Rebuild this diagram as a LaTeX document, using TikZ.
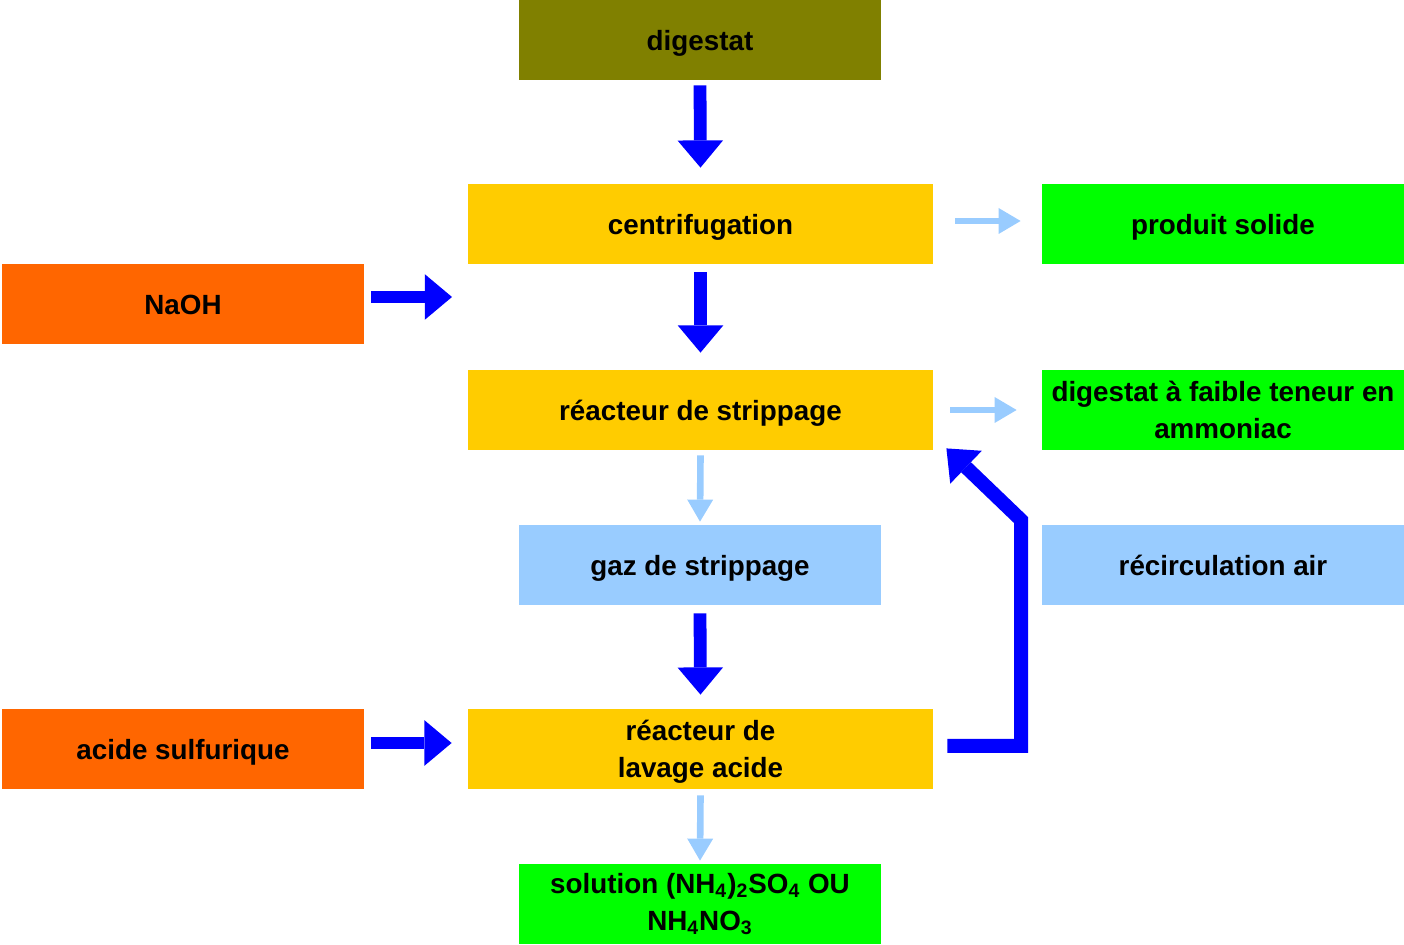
\documentclass[tikz,border=0pt]{standalone}
\usepackage{fontspec}
\setmainfont{Liberation Sans}
\usepackage{xcolor}
\usepackage{tikz}
\usetikzlibrary{arrows.meta,positioning}
\definecolor{psOlive}{HTML}{808000}
\definecolor{psYellow}{HTML}{FFCC00}
\definecolor{psGreen}{HTML}{00FF00}
\definecolor{psOrange}{HTML}{FF6600}
\definecolor{psSky}{HTML}{99CCFF}
\definecolor{psBlue}{HTML}{0000FF}
\tikzset{
  ps diagram/.style={font=\bfseries\fontsize{13.9}{18.5}\selectfont,
    x=0.5pt, y=-0.5pt},
  ps box/.style={inner sep=0pt, align=center, text=black,
    minimum height=40pt},
  ps line/.style={text height=14pt, text depth=3pt},
  ps narrow/.style={ps box, minimum width=181pt},
  ps wide/.style={ps box, minimum width=232.5pt},
  ps main/.style={draw=psBlue, line width=6.4pt, line join=miter,
    -{Triangle[length=13.6pt,width=22.8pt,line width=0pt]}},
  ps side/.style={draw=psSky, line width=3.3pt,
    -{Triangle[length=11pt,width=13pt,line width=0pt]}}
}
\begin{document}
\begin{tikzpicture}[ps diagram]
\useasboundingbox (0,0) rectangle (1404,945);
\node[ps narrow,ps line,fill=psOlive] (digestat) at (700,40) {digestat};
\node[ps wide,ps line,fill=psYellow] (centri) at (700.5,224) {centrifugation};
\node[ps narrow,ps line,fill=psGreen] (solide) at (1223,224) {produit solide};
\node[ps narrow,ps line,fill=psOrange] (naoh) at (183,304) {NaOH};
\node[ps wide,ps line,fill=psYellow] (strip) at (700.5,410) {réacteur de strippage};
\node[ps narrow,text depth=-2pt,fill=psGreen] (faible) at (1223,410)
  {digestat à faible teneur en\\ammoniac};
\node[ps narrow,ps line,fill=psSky] (gaz) at (700,565) {gaz de strippage};
\node[ps narrow,ps line,fill=psSky] (recirc) at (1223,565) {récirculation air};
\node[ps narrow,ps line,fill=psOrange] (acide) at (183,749) {acide sulfurique};
\node[ps wide,text depth=-3.5pt,fill=psYellow] (lavage) at (700.5,749) {réacteur de\\lavage acide};
\node[ps narrow,fill=psGreen] (solution) at (700,904)
  {solution (NH\textsubscript{4})\textsubscript{2}SO\textsubscript{4} OU\\NH\textsubscript{4}NO\textsubscript{3}};
\coordinate (naohIn) at (452,297);
\coordinate (loopR) at (1021,746);
\coordinate (loopT) at (1021,520);
\draw[ps main] ([yshift=-2.5pt]digestat.south) -- ([yshift=8pt]centri.north);
\draw[ps main] ([yshift=-4pt]centri.south) -- ([yshift=8.5pt]strip.north);
\draw[ps main] ([yshift=-4pt]gaz.south) -- ([yshift=7pt]lavage.north);
\draw[ps main] ([xshift=3.5pt,yshift=3.5pt]naoh.east) -- (naohIn);
\draw[ps main] ([xshift=3.5pt,yshift=3pt]acide.east) -- ([xshift=-8pt,yshift=3pt]lavage.west);
\draw[ps main, line width=7pt] ([xshift=7pt,yshift=1.5pt]lavage.east) -- (loopR) -- (loopT)
  -- ([xshift=6.5pt,yshift=1pt]strip.south east);
\draw[ps side] ([xshift=11pt,yshift=1.5pt]centri.east) -- ([xshift=-10.5pt,yshift=1.5pt]solide.west);
\draw[ps side] ([xshift=8.5pt]strip.east) -- ([xshift=-12.5pt]faible.west);
\draw[ps side] ([yshift=-2.5pt]strip.south) -- ([yshift=1.5pt]gaz.north);
\draw[ps side] ([yshift=-3pt]lavage.south) -- ([yshift=1.5pt]solution.north);
\end{tikzpicture}
\end{document}
